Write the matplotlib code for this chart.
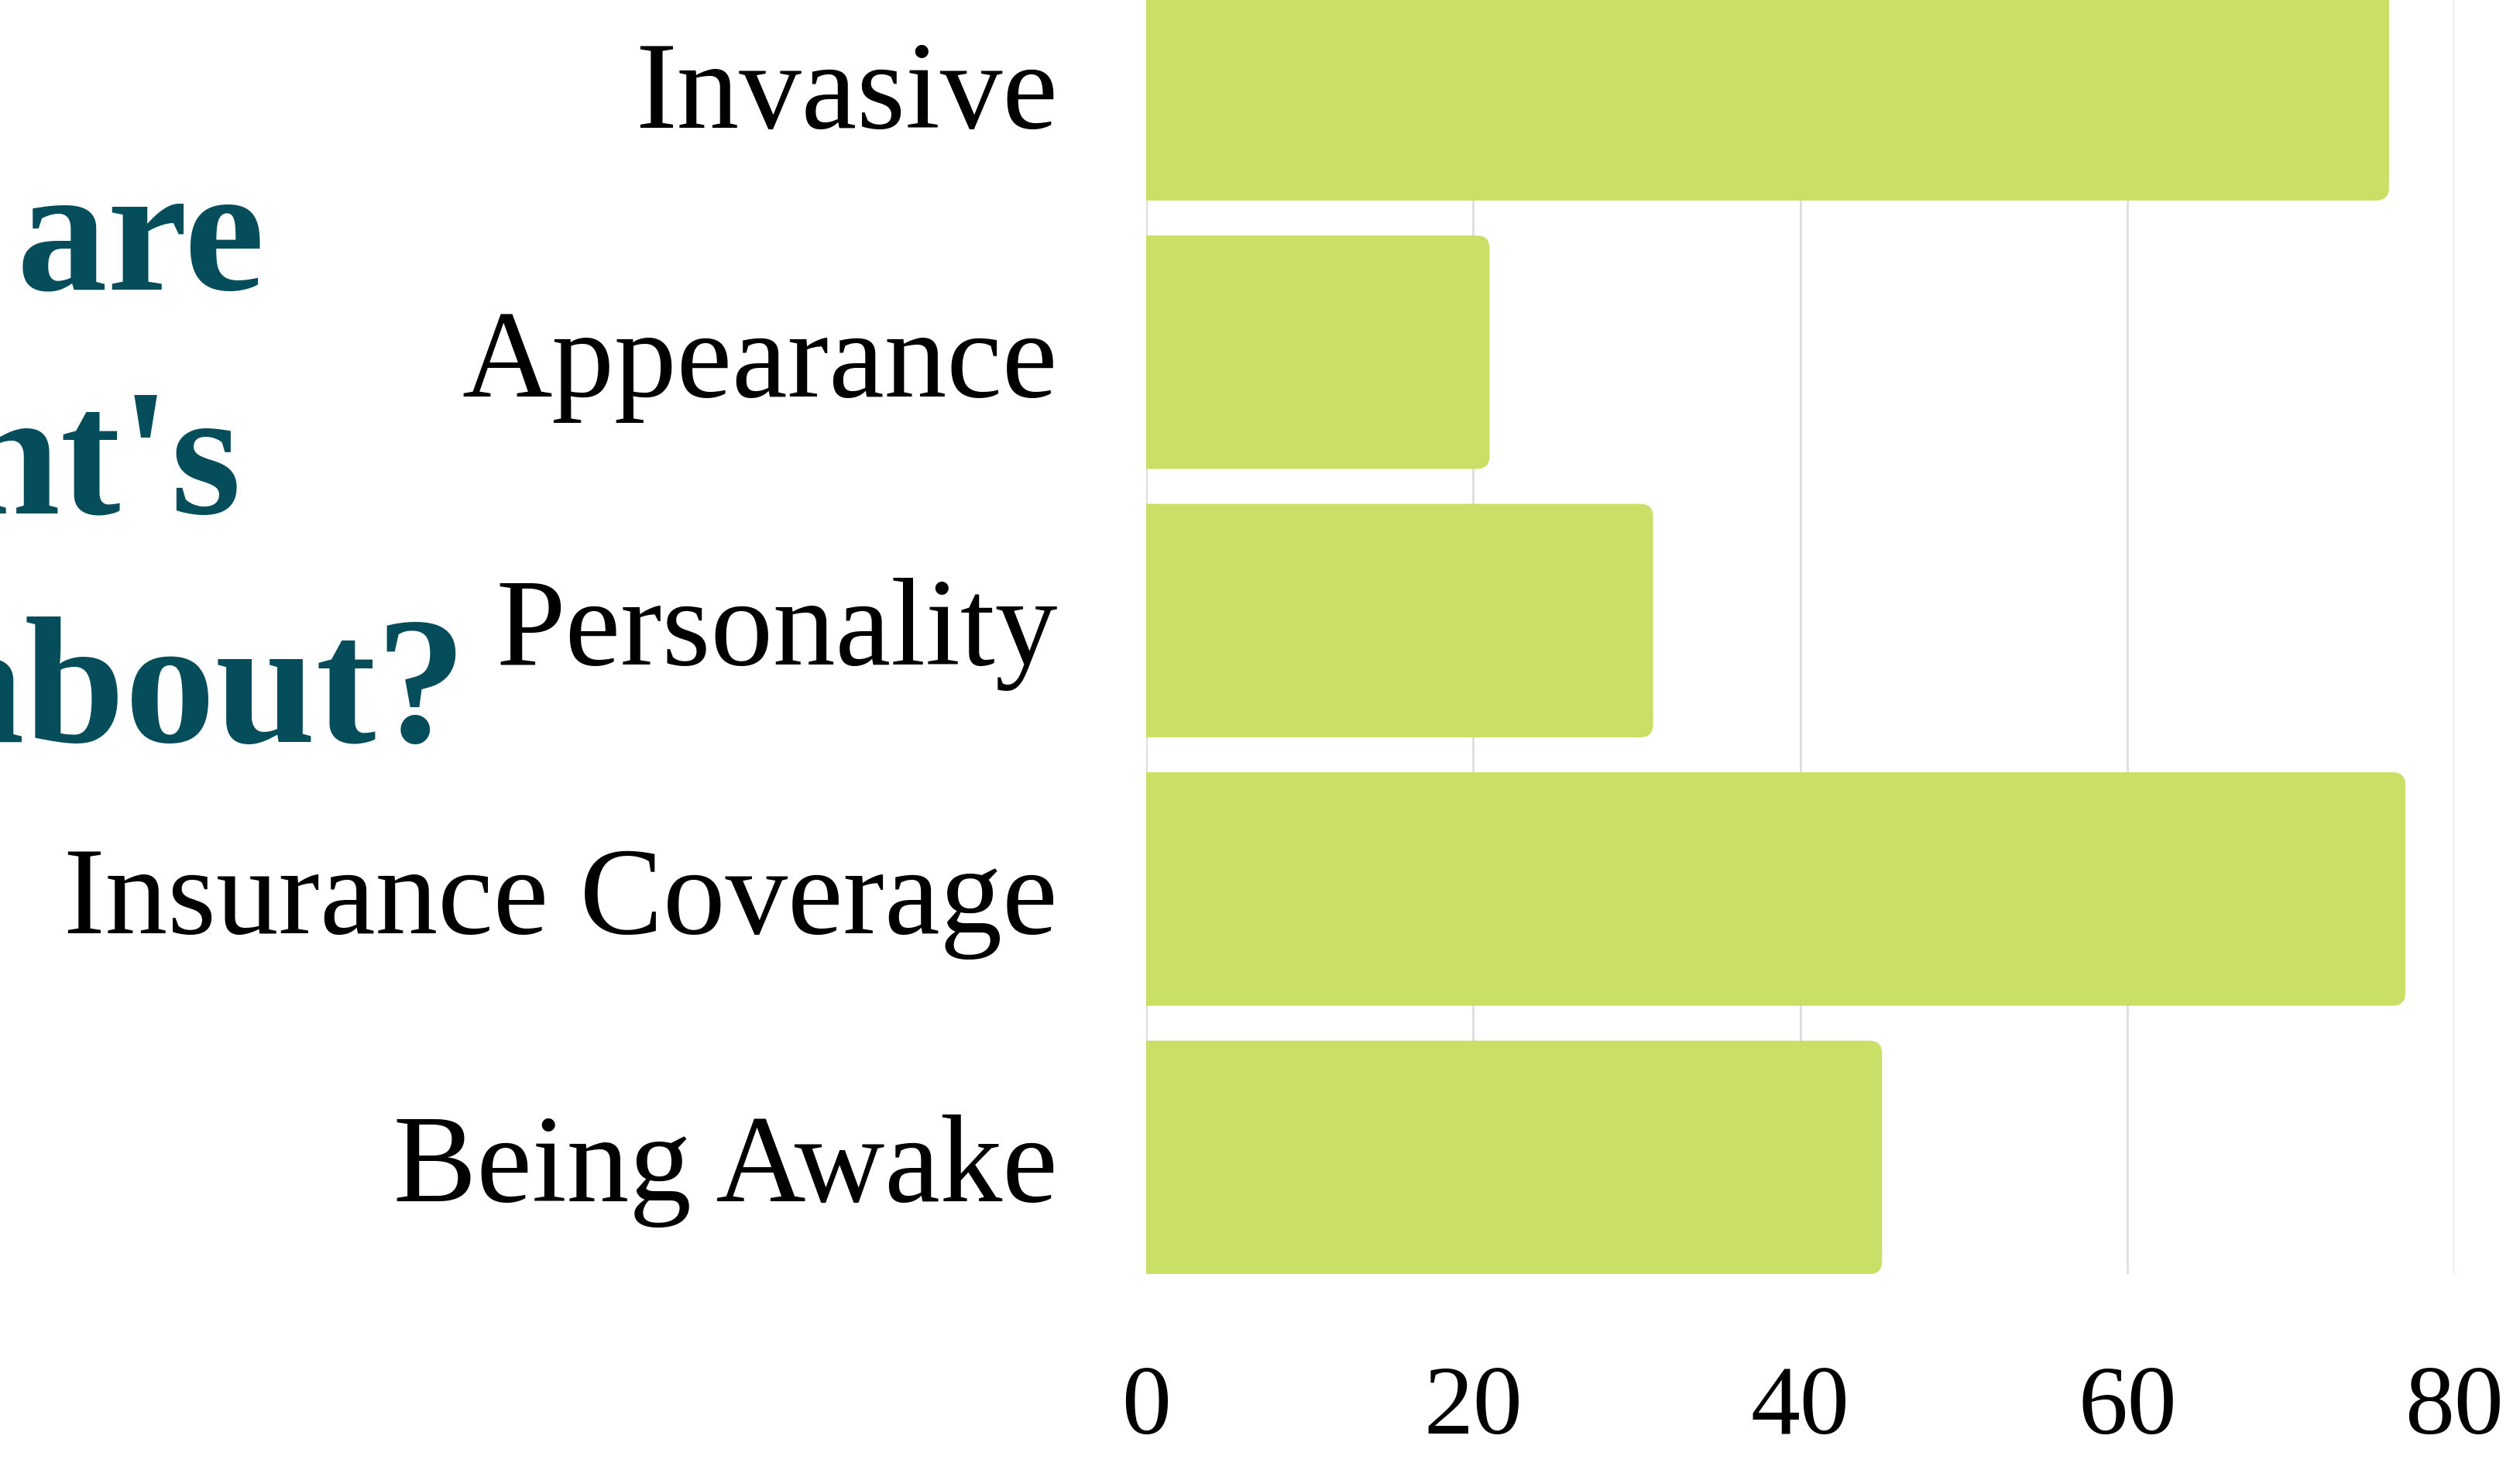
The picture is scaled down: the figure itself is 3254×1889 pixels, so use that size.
import matplotlib.pyplot as plt
from matplotlib.patches import FancyBboxPatch

categories = ["Being Awake", "Insurance Coverage", "Personality", "Appearance", "Invasive"]
values = [45, 77, 31, 21, 76]
x_ticks = [0, 20, 40, 60, 80]
title_lines = ["What are", "the patient's", "most worried about?"]

bar_color = "#cadf66"
title_color = "#064d5c"


def main():
    fig = plt.figure(figsize=(32.54, 18.9), dpi=100)
    ax = fig.add_axes([0.4548, 0.129, 0.974 - 0.4548, 0.893])

    bars = ax.barh(range(len(categories)), values, height=0.87, color=bar_color)
    # swap plain bars for ones with rounded right ends (left end gets clipped at x=0)
    for b in bars:
        x, y = b.get_x(), b.get_y()
        w, h = b.get_width(), b.get_height()
        b.set_visible(False)
        p = FancyBboxPatch((x - 2, y), w + 2, h,
                           boxstyle="round,pad=0,rounding_size=0.8",
                           mutation_aspect=0.06, facecolor=bar_color,
                           edgecolor="none", zorder=2)
        ax.add_patch(p)

    ax.set_xlim(0, 80)
    ax.set_ylim(-0.435, 4.435)
    ax.set_yticks(range(len(categories)))
    ax.set_yticklabels(categories, family="Liberation Serif", fontsize=116)
    ax.set_xticks(x_ticks)
    ax.set_xticklabels([str(t) for t in x_ticks], family="Liberation Serif", fontsize=92)
    ax.tick_params(axis="y", length=0, pad=82)
    ax.tick_params(axis="x", length=0, pad=84)
    ax.grid(axis="x", color="#dddddd", linewidth=2)
    ax.set_axisbelow(True)
    for s in ax.spines.values():
        s.set_visible(False)

    # title, mostly cut off on the left in the original
    ys = [0.802, 0.649, 0.493]
    xs = [0.105, 0.0957, 0.185]
    for t, xx, yy in zip(title_lines, xs, ys):
        fig.text(xx, yy, t, ha="right", va="baseline", color=title_color,
                 family="Liberation Serif", fontweight="bold", fontsize=168)

    fig.savefig("out.png", dpi=100)


main()
